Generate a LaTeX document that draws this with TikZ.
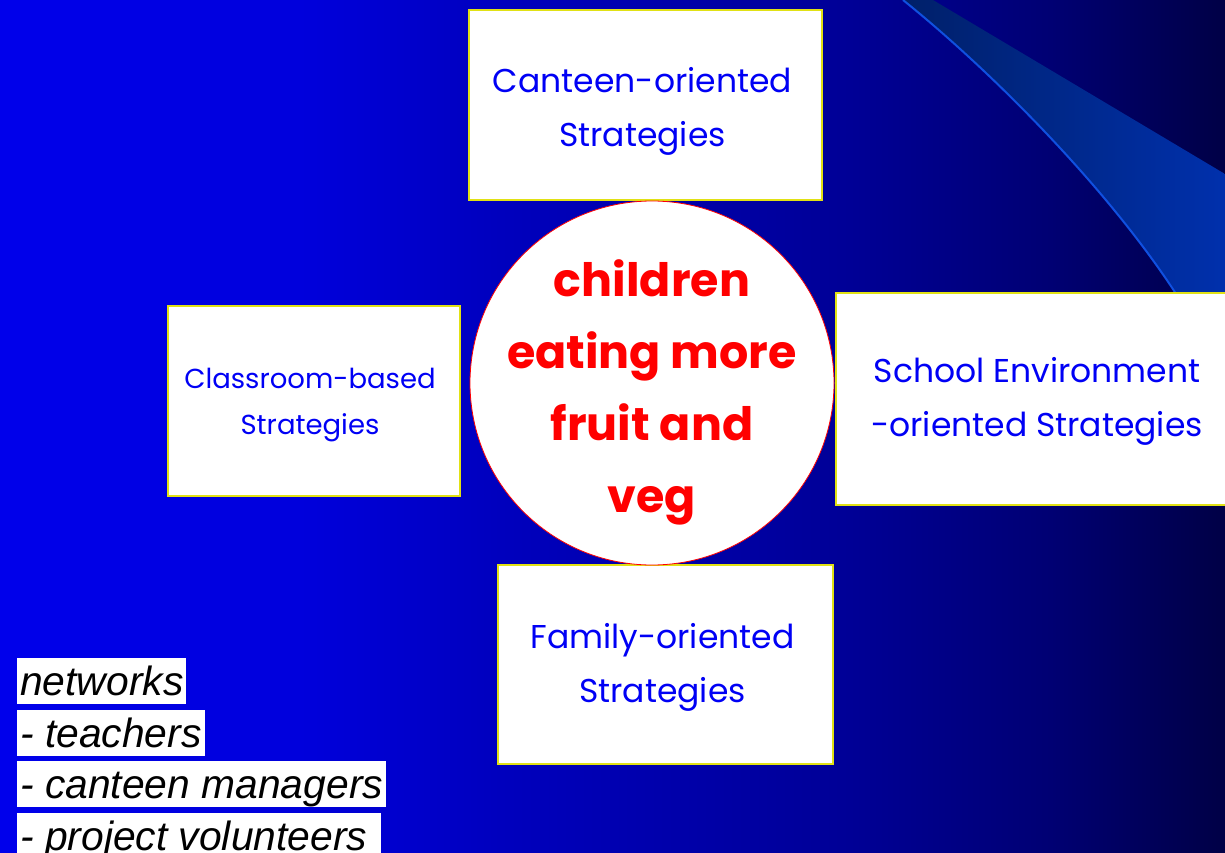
\documentclass[tikz,border=0pt]{standalone}
\usepackage{fontspec}
\setmainfont{Liberation Sans}
\newfontfamily\comicfont{Poppins}
\definecolor{bgA}{RGB}{0,0,235}
\definecolor{bgB}{RGB}{0,0,220}
\definecolor{bgC}{RGB}{0,0,190}
\definecolor{bgD}{RGB}{0,0,150}
\definecolor{bgE}{RGB}{0,0,115}
\definecolor{bgF}{RGB}{0,0,70}
\pgfdeclarehorizontalshading{bgshade}{100bp}{color(0bp)=(bgA); color(25bp)=(bgA); color(37.24bp)=(bgB); color(45.41bp)=(bgC); color(59.69bp)=(bgD); color(67.86bp)=(bgE); color(75bp)=(bgF); color(100bp)=(bgF)}
\definecolor{bandl}{RGB}{0,32,105}
\definecolor{bandr}{RGB}{0,48,172}
\definecolor{bandedge}{RGB}{16,80,224}
\definecolor{boxedge}{RGB}{225,225,20}
\definecolor{strattext}{RGB}{0,0,245}
\definecolor{hubtext}{RGB}{255,0,0}
\begin{document}
\begin{tikzpicture}[x=1pt,y=-1pt,
  stratbox/.style={draw=boxedge, line width=1.2pt, fill=white, rectangle, inner sep=0pt},
  strattxt/.style={text=strattext, align=center, inner sep=0pt,
    font=\comicfont\fontsize{33}{54}\selectfont},
  hub/.style={circle, draw=red, line width=0.8pt, fill=white, inner sep=0pt,
    minimum size=364pt},
  hubtxt/.style={text=hubtext, align=center, inner sep=0pt,
    font=\comicfont\bfseries\fontsize{46}{72}\selectfont},
  netline/.style={anchor=base west, fill=white, text=black, inner xsep=3pt, inner ysep=0pt,
    text height=37pt, text depth=8.5pt,
    font=\itshape\fontsize{40.8}{50}\selectfont}]
\useasboundingbox (0,0) rectangle (1225,853);
% background
\shade[shading=bgshade] (0,0) rectangle (1225,853);
% decorative band
\shade[left color=bandl, right color=bandr]
  (903,0) .. controls (990,70) and (1110,190) .. (1180,300) -- (1225,300) -- (1225,174) -- (933,0) -- cycle;
\draw[bandedge, line width=2pt] (903,0) .. controls (990,70) and (1110,190) .. (1180,300);
% strategy boxes
\node[stratbox, minimum width=353pt, minimum height=190pt] (canteen) at (645.5,105) {};
\node[stratbox, minimum width=292pt, minimum height=190pt] (classroom) at (314,401) {};
\node[stratbox, minimum width=410pt, minimum height=212pt] (school) at (1041,399) {};
\node[stratbox, minimum width=335pt, minimum height=199pt] (family) at (665.5,664.5) {};
\node[strattxt] (canteentxt) at ([xshift=-3pt,yshift=-6pt]canteen.center) {Canteen-oriented\\Strategies};
\node[strattxt, font=\comicfont\fontsize{27.5}{46}\selectfont] (classroomtxt) at ([xshift=-4pt,yshift=-4pt]classroom.center) {Classroom-based\\Strategies};
\node[strattxt] (schooltxt) at ([xshift=-4pt,yshift=-2pt]school.center) {School Environment\\-oriented Strategies};
\node[strattxt] (familytxt) at ([xshift=-3pt,yshift=-3pt]family.center) {Family-oriented\\Strategies};
% centre
\node[hub] (hubnode) at (652,383) {};
\node[hubtxt] (hubtext) at ([yshift=-9pt]hubnode.center) {children\\eating more\\fruit and\\veg};
% networks list
\node[netline] (n1) at (17,695) {networks};
\node[netline] (n2) at (17,747) {- teachers};
\node[netline] (n3) at (17,798) {- canteen managers};
\node[netline] (n4) at (17,850) {- project volunteers\kern11pt};
\end{tikzpicture}
\end{document}
